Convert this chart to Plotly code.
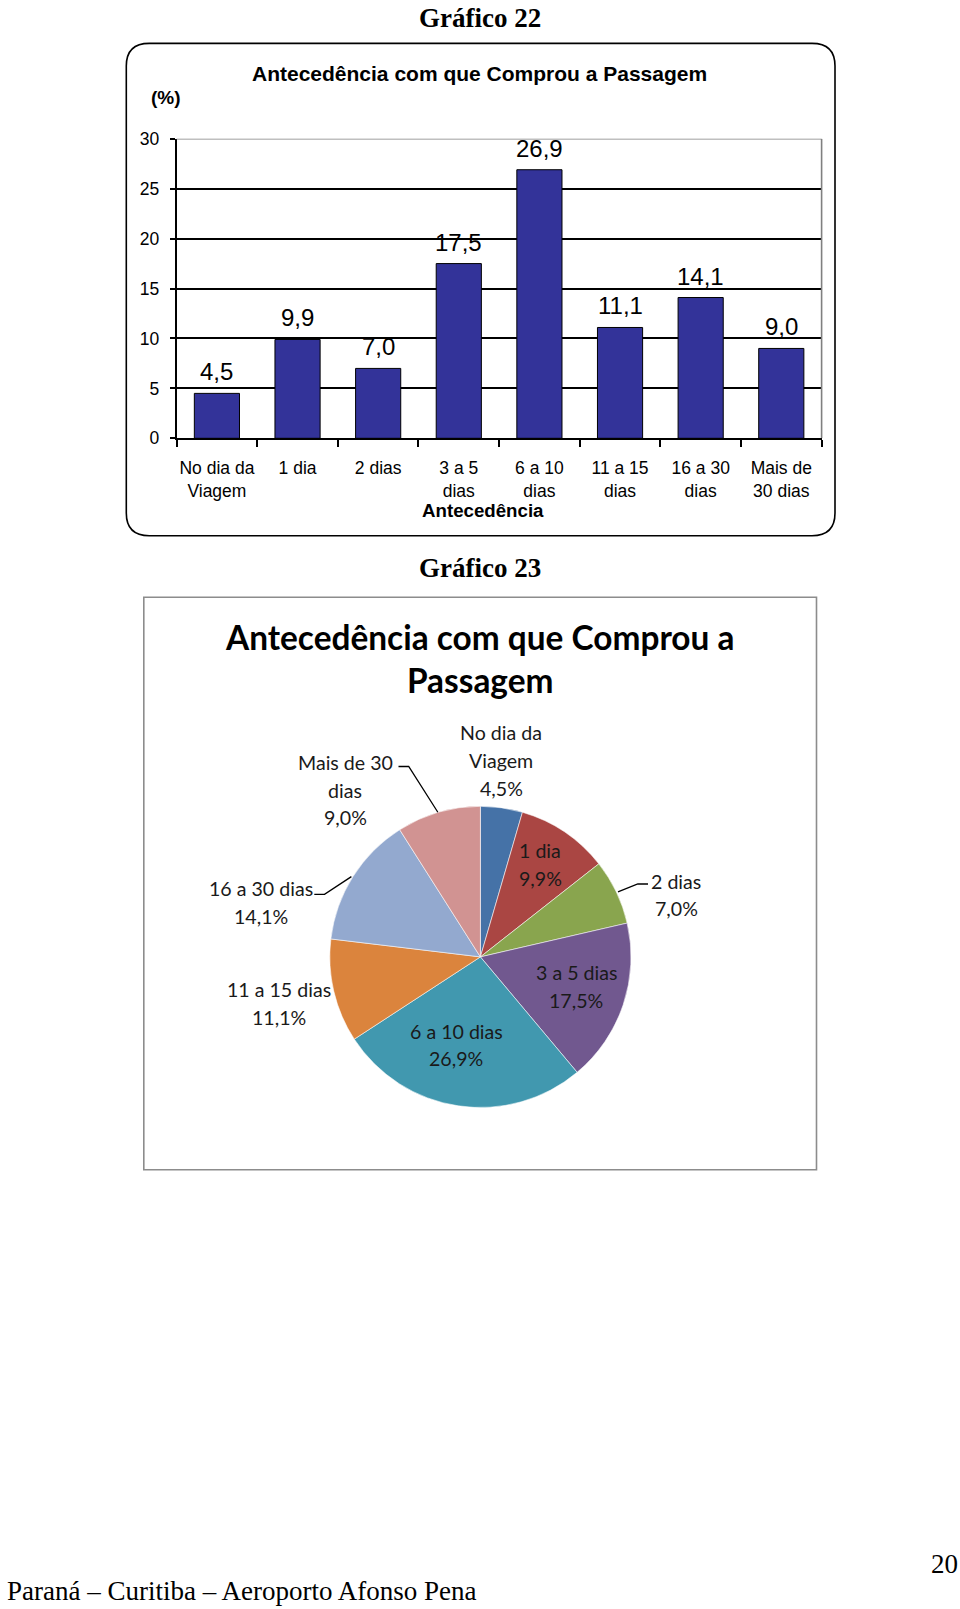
import math
import plotly.graph_objects as go

W, H = 960, 1609

# ---------------- data ----------------
bar_categories = ["No dia da<br>Viagem", "1 dia", "2 dias", "3 a 5<br>dias", "6 a 10<br>dias",
                  "11 a 15<br>dias", "16 a 30<br>dias", "Mais de<br>30 dias"]
bar_values = [4.5, 9.9, 7.0, 17.5, 26.9, 11.1, 14.1, 9.0]
y_ticks = [0, 5, 10, 15, 20, 25, 30]

pie_labels = ["No dia da<br>Viagem", "1 dia", "2 dias", "3 a 5 dias", "6 a 10 dias",
              "11 a 15 dias", "16 a 30 dias", "Mais de 30<br>dias"]
pie_values = [4.5, 9.9, 7.0, 17.5, 26.9, 11.1, 14.1, 9.0]
pie_colors = ["#4572A7", "#AA4643", "#89A54E", "#71588F", "#4198AF", "#DB843D", "#93A9CF", "#D19392"]

# label block centres (page pixels) for the pie labels
pie_label_pos = [(501, 760), (540, 865), (676, 896), (576, 989), (456, 1048),
                 (279, 1006), (261, 904), (345, 790)]
# leader lines: (slice index, label-side end point, elbow point)
leaders = [(7, (398.5, 766), (408.7, 766)),
           (2, (648, 885), (637.8, 885)),
           (6, (314.3, 895.5), (324.5, 895.5))]


def fmt(v):
    return f"{v:.1f}".replace(".", ",")


def px(x):
    return x / W


def py(y):
    return 1 - y / H


BAR_FONT = "Liberation Sans Narrow, Arial Narrow, Liberation Sans, Arial, sans-serif"
SERIF = "Liberation Serif, Times New Roman, serif"
PIE_FONT = "Lato, Carlito, Calibri, sans-serif"

# plot area of the bar chart (page pixels)
BX0, BX1, BY0, BY1 = 176.6, 821.6, 130.4, 433.7

fig = go.Figure()

# ---------------- bar chart ----------------
fig.add_trace(go.Bar(
    x=bar_categories, y=bar_values,
    marker=dict(color="#333399", line=dict(color="#000000", width=1)),
    width=0.56, showlegend=False, hoverinfo="skip",
    xaxis="x", yaxis="y",
))

annotations = []
for c, v in zip(bar_categories, bar_values):
    annotations.append(dict(x=c, y=v, xref="x", yref="y", text=fmt(v), showarrow=False,
                            yanchor="bottom", yshift=6,
                            font=dict(family=BAR_FONT, size=24, color="#000")))

# ---------------- pie chart ----------------
cx, cy, r = 480.4, 958.8, 152.5
fig.add_trace(go.Pie(
    labels=[l.replace("<br>", " ") for l in pie_labels], values=pie_values,
    marker=dict(colors=pie_colors, line=dict(color="rgba(255,255,255,0.55)", width=1)),
    sort=False, direction="clockwise", rotation=0,
    textinfo="none", hoverinfo="skip", showlegend=False,
    domain=dict(x=[px(cx - r), px(cx + r)], y=[py(cy + r), py(cy - r)]),
))

LH = 28
for lab, v, (lx, ly) in zip(pie_labels, pie_values, pie_label_pos):
    lines = lab.split("<br>") + [f"{fmt(v)}%"]
    n = len(lines)
    for i, t in enumerate(lines):
        annotations.append(dict(x=px(lx), y=py(ly + (i - (n - 1) / 2) * LH), xref="paper", yref="paper",
                                text=t, showarrow=False, xanchor="center", yanchor="middle",
                                font=dict(family=PIE_FONT, size=19.6, color="#1a1a1a")))

# ---------------- texts ----------------
texts = [
    ("Gráfico 22", 479.6, 8, dict(family=SERIF, size=27, color="#000"), "<b>%s</b>", "center"),
    ("Antecedência com que Comprou a Passagem", 479.6, 64, dict(family=BAR_FONT, size=21, color="#000"), "<b>%s</b>", "center"),
    ("(%)", 166.4, 89, dict(family=BAR_FONT, size=19, color="#000"), "<b>%s</b>", "center"),
    ("Antecedência", 482.7, 506.4, dict(family=BAR_FONT, size=18.7, color="#000"), "<b>%s</b>", "center"),
    ("Gráfico 23", 479.6, 564.6, dict(family=SERIF, size=27, color="#000"), "<b>%s</b>", "center"),
    ("Antecedência com que Comprou a<br>Passagem", 479.6, 657, dict(family=PIE_FONT, size=33.4, color="#000"), "<b>%s</b>", "center"),
    ("20", 944.8, 1574, dict(family=SERIF, size=27, color="#000"), "%s", "center"),
    ("Paraná – Curitiba – Aeroporto Afonso Pena", 5, 1601, dict(family=SERIF, size=27, color="#000"), "%s", "left"),
]
for t, x, y, f, tmpl, anchor in texts:
    annotations.append(dict(x=px(x), y=py(y), xref="paper", yref="paper", text=tmpl % t,
                            showarrow=False, xanchor=anchor, yanchor="middle", font=f,
                            align="center"))

# ---------------- shapes ----------------
def rounded_rect(x0, y0, x1, y1, rad):
    return (f"M {px(x0 + rad)} {py(y0)} L {px(x1 - rad)} {py(y0)} "
            f"Q {px(x1)} {py(y0)} {px(x1)} {py(y0 + rad)} "
            f"L {px(x1)} {py(y1 - rad)} Q {px(x1)} {py(y1)} {px(x1 - rad)} {py(y1)} "
            f"L {px(x0 + rad)} {py(y1)} Q {px(x0)} {py(y1)} {px(x0)} {py(y1 - rad)} "
            f"L {px(x0)} {py(y0 + rad)} Q {px(x0)} {py(y0)} {px(x0 + rad)} {py(y0)} Z")


def polyline(pts):
    return "M " + " L ".join(f"{px(a)} {py(b)}" for a, b in pts)


total = sum(pie_values)
cum = [sum(pie_values[:i]) for i in range(len(pie_values))]

shapes = [
    dict(type="path", xref="paper", yref="paper", path=rounded_rect(126.3, 33.8, 835, 532.4, 23),
         line=dict(color="#000", width=1.6), layer="below"),
    dict(type="rect", xref="paper", yref="paper", x0=px(143.8), x1=px(816.5), y0=py(594.7), y1=py(1174.3),
         line=dict(color="#8c8c8c", width=1.6), layer="below"),
    # grey top / right frame of the bar plot area
    dict(type="line", xref="paper", yref="y", x0=px(BX0), x1=px(BX1), y0=30, y1=30,
         line=dict(color="#808080", width=1.6)),
    dict(type="line", xref="paper", yref="y", x0=px(BX1), x1=px(BX1), y0=0, y1=30,
         line=dict(color="#808080", width=1.6)),
]
for idx, p_end, p_elbow in leaders:
    mid = (cum[idx] + pie_values[idx] / 2) / total * 2 * math.pi
    edge = (cx + r * math.sin(mid), cy - r * math.cos(mid))
    shapes.append(dict(type="path", xref="paper", yref="paper",
                       path=polyline([p_end, p_elbow, edge]),
                       line=dict(color="#000", width=1.3)))

fig.update_layout(
    width=W, height=H, margin=dict(l=0, r=0, t=0, b=0),
    paper_bgcolor="white", plot_bgcolor="white",
    xaxis=dict(domain=[px(BX0), px(BX1)], type="category", range=[-0.5, 7.5],
               showline=True, linecolor="#000", linewidth=1.6, ticks="outside",
               tickson="boundaries", ticklen=7, tickcolor="#000", tickwidth=1.6,
               showgrid=False, ticklabelstandoff=13, tickangle=0,
               tickfont=dict(family=BAR_FONT, size=17.5, color="#000"), anchor="y"),
    yaxis=dict(domain=[py(BY1), py(BY0)], range=[0, 30], tickvals=y_ticks,
               showline=True, linecolor="#000", linewidth=1.6, ticks="outside",
               ticklen=5, tickcolor="#000", tickwidth=1.6,
               showgrid=True, gridcolor="#000", gridwidth=1.6, zeroline=False,
               ticklabelstandoff=7,
               tickfont=dict(family=BAR_FONT, size=17.5, color="#000"), anchor="x"),
    annotations=annotations, shapes=shapes,
)

fig.write_html(
    "out.html",
    config={"displayModeBar": False},
    post_script=("document.documentElement.style.margin='0';document.body.style.margin='0';"
                 "document.body.style.overflow='hidden';"
                 "var gd=document.getElementById('{plot_id}');"
                 "gd.style.position='fixed';gd.style.top='0px';gd.style.left='0px';"),
)
